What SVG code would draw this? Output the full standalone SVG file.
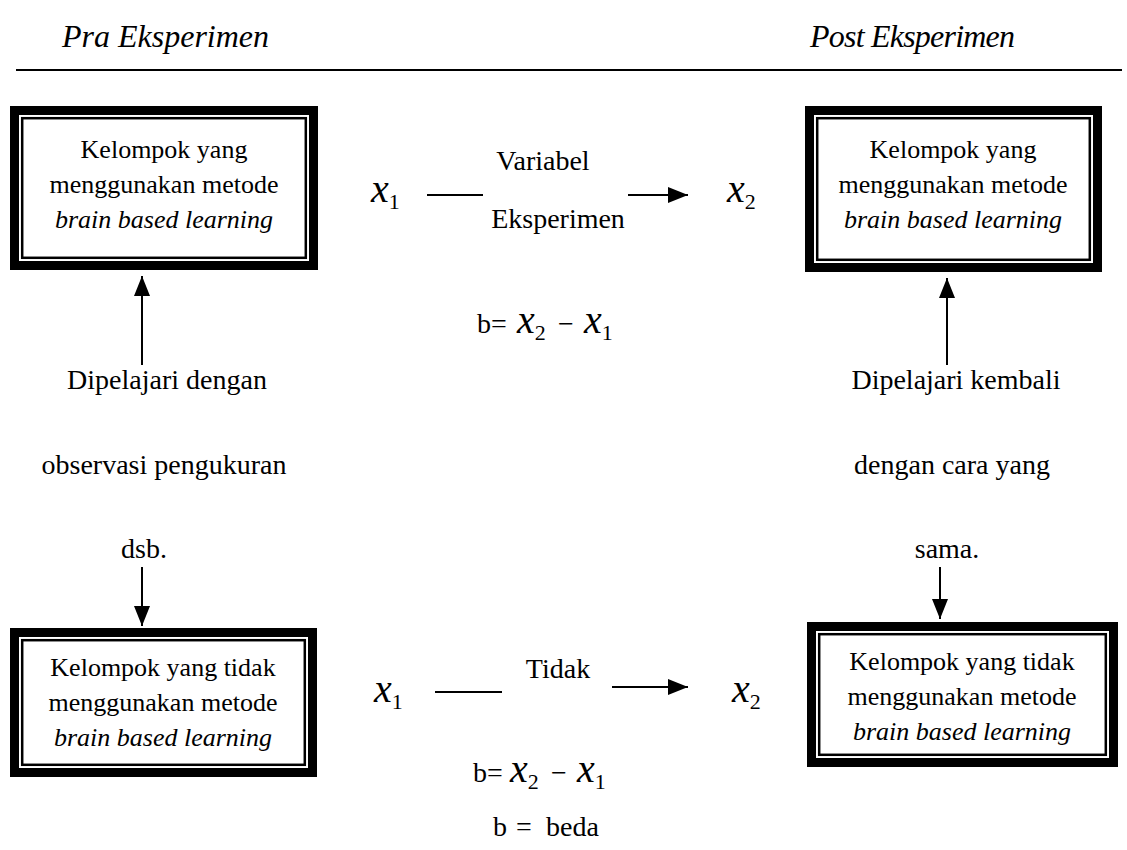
<svg xmlns="http://www.w3.org/2000/svg" width="1127" height="850" viewBox="0 0 1127 850">
<defs>
<style>
.hd{font-size:32px;font-style:italic}
.bx{font-size:26px;text-anchor:middle}
.bi{font-style:italic}
.lb{font-size:28px}
.lbc{font-size:28px;text-anchor:middle}
.mx{font-style:italic;font-size:40px}
.sub{font-size:22px;font-style:normal}
.outer{fill:#fff;stroke:#000;stroke-width:9}
.inner{fill:none;stroke:#000;stroke-width:2.5}
.ln{stroke:#000;stroke-width:2;fill:none}
</style>
<marker id="ahv" viewBox="0 0 10 10" refX="10" refY="5" markerWidth="20" markerHeight="16" markerUnits="userSpaceOnUse" orient="auto" preserveAspectRatio="none"><path d="M0,0 L10,5 L0,10 Z" fill="#000"/></marker>
</defs>
<rect width="1127" height="850" fill="#fff"/>
<g font-family="Liberation Serif, Times New Roman, serif" fill="#000">
<g id="header">
<text class="hd" x="62" y="47">Pra Eksperimen</text>
<text class="hd" x="810" y="47" textLength="205">Post Eksperimen</text>
<line class="ln" x1="16" y1="70" x2="1122" y2="70"/>
</g>
<g id="box-pre-exp">
<rect class="outer" x="14.5" y="110.5" width="299" height="155"/>
<rect class="inner" x="22.2" y="118.2" width="283.6" height="139.6"/>
<text class="bx" x="164" y="158">Kelompok yang</text>
<text class="bx" x="164" y="193">menggunakan metode</text>
<text class="bx bi" x="164" y="228">brain based learning</text>
</g>
<g id="box-post-exp">
<rect class="outer" x="809.5" y="110.5" width="288" height="157"/>
<rect class="inner" x="817.2" y="118.2" width="272.6" height="141.6"/>
<text class="bx" x="953" y="158">Kelompok yang</text>
<text class="bx" x="953" y="193">menggunakan metode</text>
<text class="bx bi" x="953" y="228">brain based learning</text>
</g>
<g id="box-pre-ctrl">
<rect class="outer" x="14.5" y="632.5" width="298" height="140"/>
<rect class="inner" x="22.2" y="640.2" width="282.6" height="124.6"/>
<text class="bx" x="163" y="676">Kelompok yang tidak</text>
<text class="bx" x="163" y="711">menggunakan metode</text>
<text class="bx bi" x="163" y="746">brain based learning</text>
</g>
<g id="box-post-ctrl">
<rect class="outer" x="811.5" y="626.5" width="302" height="136"/>
<rect class="inner" x="819.2" y="634.2" width="286.6" height="120.6"/>
<text class="bx" x="962" y="670">Kelompok yang tidak</text>
<text class="bx" x="962" y="705">menggunakan metode</text>
<text class="bx bi" x="962" y="740">brain based learning</text>
</g>
<g id="labels">
<text class="mx" x="371" y="202">x<tspan class="sub" dy="7">1</tspan></text>
<text class="lbc" x="543" y="170">Variabel</text>
<text class="lbc" x="558" y="228">Eksperimen</text>
<text class="mx" x="727" y="202">x<tspan class="sub" dy="7">2</tspan></text>
<text class="lb" y="333"><tspan x="477">b=</tspan><tspan class="mx" x="517">x</tspan><tspan class="sub" dy="7">2</tspan><tspan x="558" dy="-7">−</tspan><tspan class="mx" x="584">x</tspan><tspan class="sub" dy="7">1</tspan></text>
<text class="lbc" x="167" y="389">Dipelajari dengan</text>
<text class="lbc" x="164" y="474">observasi pengukuran</text>
<text class="lbc" x="144" y="558">dsb.</text>
<text class="lbc" x="956" y="389">Dipelajari kembali</text>
<text class="lbc" x="952" y="474">dengan cara yang</text>
<text class="lbc" x="947" y="558">sama.</text>
<text class="mx" x="374" y="702">x<tspan class="sub" dy="7">1</tspan></text>
<text class="lbc" x="558" y="678">Tidak</text>
<text class="mx" x="732" y="702">x<tspan class="sub" dy="7">2</tspan></text>
<text class="lb" y="782"><tspan x="473">b=</tspan><tspan class="mx" x="510">x</tspan><tspan class="sub" dy="7">2</tspan><tspan x="551" dy="-7">−</tspan><tspan class="mx" x="577">x</tspan><tspan class="sub" dy="7">1</tspan></text>
<text class="lb" y="836" font-size="32"><tspan x="493">b</tspan><tspan x="516">=</tspan><tspan x="546">beda</tspan></text>
</g>
</g>
<g id="connectors">
<line class="ln" x1="427" y1="195" x2="483" y2="195"/>
<line class="ln" x1="628" y1="195" x2="688" y2="195" marker-end="url(#ahv)"/>
<line class="ln" x1="435" y1="692" x2="502" y2="692"/>
<line class="ln" x1="612" y1="687" x2="688" y2="687" marker-end="url(#ahv)"/>
<line class="ln" x1="142" y1="365" x2="142" y2="276" marker-end="url(#ahv)"/>
<line class="ln" x1="142" y1="567" x2="142" y2="626" marker-end="url(#ahv)"/>
<line class="ln" x1="947" y1="365" x2="947" y2="278" marker-end="url(#ahv)"/>
<line class="ln" x1="940" y1="567" x2="940" y2="619" marker-end="url(#ahv)"/>
</g>
</svg>
